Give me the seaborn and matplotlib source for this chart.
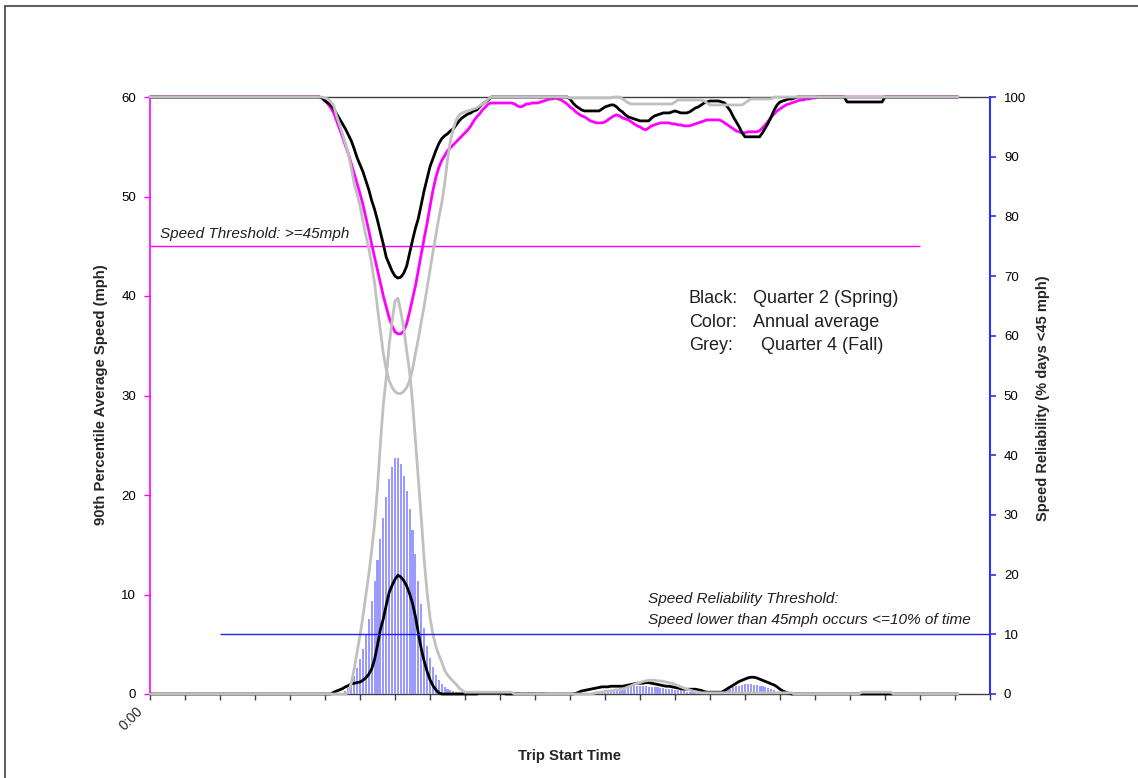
import numpy as np
import pandas as pd
import matplotlib
matplotlib.use("Agg")
import matplotlib.pyplot as plt
import seaborn as sns
from matplotlib.patches import Rectangle

# ---------------- DATA (5-minute intervals from 0:00) ----------------
N_POINTS = 278

# 90th percentile average speed (mph), left axis
speed_q2_spring = (
    [60] * 58
    + [60, 59.9, 59.6, 59.4, 59.2, 58.8, 58.3, 57.8, 57.3, 56.8,
       56.2, 55.6, 54.8, 53.9, 53.2, 52.5, 51.6, 50.7, 49.6, 48.7,
       47.6, 46.4, 45.2, 43.9, 43.2, 42.5, 42.0, 41.8, 41.9, 42.3,
       43.0, 44.3, 45.6, 46.8, 47.8, 49.2, 50.6, 51.8, 53.0, 53.8,
       54.6, 55.3, 55.8, 56.1, 56.3, 56.6, 56.8, 57.2, 57.6, 57.9,
       58.1, 58.3, 58.4, 58.6, 58.7, 59.0, 59.3, 59.5, 59.7, 60]
    + [60] * 25
    + [60, 59.8, 59.4, 59.1, 58.9, 58.7, 58.6, 58.6, 58.6, 58.6,
       58.6, 58.6, 58.8, 59.0, 59.1, 59.2, 59.2, 59.0, 58.7, 58.5,
       58.2, 58.0, 57.9, 57.8, 57.7, 57.6, 57.6, 57.6, 57.6, 57.9,
       58.1, 58.2, 58.3, 58.4, 58.4, 58.4, 58.5, 58.6, 58.5, 58.4,
       58.4, 58.4, 58.5, 58.7, 58.9, 59.0, 59.2, 59.4, 59.5, 59.6,
       59.6, 59.6, 59.6, 59.5, 59.4, 59.0, 58.6, 58.0, 57.5, 57.0,
       56.4, 56.0, 56.0, 56.0, 56.0, 56.0, 56.0, 56.4, 56.9, 57.4,
       58.0, 58.7, 59.2, 59.5, 59.6, 59.7, 59.8, 59.8, 59.9, 60]
    + [60] * 16
    + [59.5] * 13
    + [60] * 26
)

speed_annual = (
    [60] * 58
    + [60, 59.9, 59.7, 59.3, 58.9, 58.4, 57.6, 56.8, 56.0, 55.1,
       54.3, 53.3, 52.3, 51.3, 50.3, 49.2, 47.9, 46.6, 45.2, 43.9,
       42.6, 41.3, 40.0, 38.9, 37.8, 37.0, 36.4, 36.2, 36.2, 36.5,
       37.2, 38.4, 39.7, 41.0, 42.6, 44.2, 45.8, 47.3, 49.0, 50.6,
       51.9, 52.9, 53.6, 54.1, 54.6, 54.9, 55.2, 55.5, 55.8, 56.1,
       56.4, 56.7, 57.1, 57.6, 58.0, 58.3, 58.7, 59.0, 59.3, 59.4,
       59.4, 59.4, 59.4]
    + [59.4, 59.4, 59.4, 59.4, 59.3, 59.1, 59.0, 59.1, 59.3, 59.3,
       59.4, 59.4, 59.4, 59.5, 59.6, 59.7, 59.8, 59.8, 59.9, 59.8,
       59.7, 59.5, 59.3, 59.0, 58.8, 58.5, 58.3, 58.1, 58.0, 57.8,
       57.6, 57.5, 57.4, 57.4, 57.4, 57.5, 57.7, 57.9, 58.1, 58.2,
       58.1, 57.9, 57.8, 57.7, 57.5, 57.3, 57.1, 57.0, 56.8, 56.7,
       56.9, 57.1, 57.2, 57.3, 57.4, 57.4, 57.4, 57.4, 57.3, 57.3,
       57.2, 57.2, 57.1, 57.1, 57.1, 57.2, 57.3, 57.4, 57.5, 57.6,
       57.7, 57.7, 57.7, 57.7, 57.7, 57.6, 57.4, 57.2, 57.0, 56.8,
       56.6, 56.5, 56.4, 56.4, 56.5, 56.5, 56.5, 56.5, 56.6, 56.9,
       57.2, 57.6, 58.0, 58.3, 58.6, 58.8, 59.0, 59.2, 59.3, 59.4,
       59.5, 59.6, 59.7, 59.7, 59.8, 59.8, 59.9, 59.9, 60]
    + [60] * 48
)

speed_q4_fall = (
    [60] * 58
    + [60, 60, 59.9, 59.8, 59.5, 59.1, 58.1, 57.2, 56.3, 55.3,
       54.3, 52.9, 51.3, 50.2, 49.1, 47.5, 46.1, 44.8, 43.2, 41.3,
       38.8, 36.5, 34.2, 32.6, 31.5, 30.8, 30.4, 30.2, 30.2, 30.4,
       30.8, 31.5, 32.6, 34.2, 35.7, 37.4, 39.0, 40.8, 42.6, 44.4,
       46.1, 47.8, 49.3, 51.2, 53.7, 55.6, 56.8, 57.7, 58.2, 58.4,
       58.5, 58.6, 58.7, 58.8, 58.9, 59.1, 59.3, 59.5, 59.8, 60]
    + [60] * 26
    + [59.9] * 15 + [60, 60, 60] + [59.8, 59.6, 59.4] + [59.3] * 15
    + [59.5, 59.7] + [59.7] * 8 + [59.6, 59.4] + [59.2] * 12
    + [59.4, 59.6] + [59.8] * 8
    + [60] * 64
)

# Speed reliability (% days < 45 mph), right axis
rel_q2_spring = (
    [0] * 63
    + [0.3, 0.5, 0.7, 0.9, 1.2, 1.4, 1.7, 1.8, 1.9, 2.0,
       2.3, 2.7, 3.3, 4.2, 5.8, 8.2, 10.8, 12.6, 14.9, 17.0,
       18.2, 19.2, 19.9, 19.6, 19.0, 18.1, 16.8, 15.2, 13.0, 10.2,
       7.6, 5.5, 3.8, 2.4, 1.4, 0.7, 0.2]
    + [0] * 13
    + [0.2] * 9
    + [0] * 24
    + [0.1, 0.3, 0.5, 0.6, 0.7, 0.8, 0.9, 1.0, 1.1, 1.2,
       1.2, 1.2, 1.3, 1.3, 1.3, 1.3, 1.3, 1.4, 1.5, 1.6,
       1.7, 1.8, 1.8, 1.8, 1.9, 1.9, 1.8, 1.7, 1.6, 1.5,
       1.4, 1.3, 1.3, 1.2, 1.1, 1.0, 0.9, 0.8, 0.8, 0.8,
       0.8, 0.8, 0.7, 0.6, 0.4, 0.3, 0.3, 0.3, 0.3, 0.3,
       0.3, 0.6, 0.9, 1.2, 1.5, 1.8, 2.1, 2.3, 2.5, 2.7,
       2.8, 2.8, 2.7, 2.5, 2.3, 2.1, 1.9, 1.7, 1.5, 1.2,
       0.8, 0.5, 0.3, 0.1]
    + [0] * 58
)

rel_q4_fall = (
    [0] * 68
    + [0.3, 1.8, 4.2, 7.0, 9.8, 13.0, 16.5, 20.0, 24.0, 28.5,
       34.5, 42.0, 48.5, 53.0, 58.5, 62.5, 65.8, 66.3, 64.0, 61.3,
       57.5, 54.0, 49.0, 42.5, 36.0, 29.5, 22.5, 17.0, 12.8, 10.0,
       8.0, 6.6, 5.4, 4.0, 3.2, 2.6, 2.1, 1.6, 1.0, 0.6, 0.3]
    + [0.3] * 16
    + [0] * 27
    + [0.1, 0.2, 0.3, 0.3, 0.4, 0.5, 0.5, 0.6, 0.7, 0.7,
       0.8, 1.0, 1.2, 1.4, 1.6, 1.8, 1.9, 2.1, 2.2, 2.3,
       2.3, 2.3, 2.2, 2.2, 2.1, 2.0, 1.9, 1.8, 1.6, 1.4,
       1.2, 1.0, 0.8, 0.7, 0.5, 0.4, 0.3, 0.2]
    + [0.2] * 31
    + [0] * 23
    + [0.3] * 11
    + [0] * 23
)

rel_annual_bars = (
    [0] * 66
    + [0.2, 0.5, 1.0, 1.8, 3.0, 4.3, 5.8, 7.5, 9.8, 12.5,
       15.5, 19.0, 22.5, 26.0, 29.5, 33.0, 36.0, 38.0, 39.5, 39.6,
       38.5, 36.5, 34.0, 31.0, 27.5, 23.5, 19.0, 15.0, 11.0, 8.0,
       6.0, 4.5, 3.2, 2.3, 1.6, 1.2, 0.9, 0.7, 0.5, 0.4, 0.3]
    + [0.3] * 29
    + [0] * 16
    + [0.2, 0.3, 0.4, 0.5, 0.6, 0.6, 0.7, 0.8, 0.9, 1.0,
       1.0, 1.1, 1.2, 1.2, 1.3, 1.3, 1.3, 1.3, 1.3, 1.2,
       1.2, 1.1, 1.1, 1.0, 1.0, 0.9, 0.9, 0.8, 0.7, 0.6,
       0.6, 0.5, 0.4, 0.4, 0.3, 0.3, 0.2, 0.1, 0.1, 0.1,
       0.1, 0.1, 0.1, 0.1, 0.3, 0.5, 0.7, 0.9, 1.1, 1.3,
       1.4, 1.5, 1.6, 1.6, 1.6, 1.5, 1.5, 1.4, 1.3, 1.1,
       1.0, 0.8, 0.6, 0.4, 0.3, 0.2, 0.1]
    + [0] * 59
)

x_first_label = "0:00"
speed_threshold = 45
reliability_threshold = 10

for s in (speed_q2_spring, speed_annual, speed_q4_fall,
          rel_q2_spring, rel_q4_fall, rel_annual_bars):
    assert len(s) == N_POINTS, len(s)

# ---------------- PLOT ----------------
sns.set_style("white")
plt.rcParams['font.family'] = ['Liberation Sans', 'DejaVu Sans']

hours = np.arange(N_POINTS) / 12.0

speed_df = pd.DataFrame({
    "time": np.tile(hours, 3),
    "speed": speed_annual + speed_q2_spring + speed_q4_fall,
    "series": ["Annual"] * N_POINTS + ["Q2"] * N_POINTS + ["Q4"] * N_POINTS,
})
rel_df = pd.DataFrame({
    "time": np.tile(hours, 2),
    "rel": rel_q2_spring + rel_q4_fall,
    "series": ["Q2"] * N_POINTS + ["Q4"] * N_POINTS,
})
bars_df = pd.DataFrame({"time": hours, "rel": rel_annual_bars})
palette = {"Annual": "#ff00ff", "Q2": "#000000", "Q4": "#c0c0c0"}

W, H = 1138, 778
fig = plt.figure(figsize=(W / 100, H / 100), dpi=100)
fig.patch.set_facecolor("white")
ax1 = fig.add_axes([150 / W, 1 - 694 / H, 840 / W, 597 / H])
ax2 = ax1.twinx()

# bars (annual reliability) on right axis
sns.histplot(data=bars_df, x="time", weights="rel", binwidth=1 / 12.0,
             binrange=(-0.5 / 12.0, (N_POINTS - 0.5) / 12.0), ax=ax2,
             color="#9a9aff", alpha=1, linewidth=0, shrink=0.72,
             stat="count", zorder=1)

sns.lineplot(data=rel_df, x="time", y="rel", hue="series",
             hue_order=["Q2", "Q4"], palette=palette, linewidth=2.0,
             estimator=None, sort=False, legend=False, ax=ax2, zorder=3)

sns.lineplot(data=speed_df, x="time", y="speed", hue="series",
             hue_order=["Annual", "Q2", "Q4"], palette=palette, linewidth=2.0,
             estimator=None, sort=False, legend=False, ax=ax1, zorder=3)

for ln in ax1.lines + ax2.lines:
    ln.set_clip_on(False)

ax1.hlines(speed_threshold, 0, 22, colors="#ff00ff", linewidth=1.0, zorder=2)
ax2.hlines(reliability_threshold, 2, 24, colors="#2020ff", linewidth=1.0, zorder=4)

ax1.set_xlim(0, 24)
ax1.set_ylim(0, 60)
ax2.set_ylim(0, 100)
ax1.set_xticks(range(25))
ax1.set_xticklabels([""] * 25)
ax1.set_yticks(range(0, 61, 10))
ax2.set_yticks(range(0, 101, 10))
ax1.tick_params(axis="y", colors="#ff00ff", labelcolor="black", direction="out",
                length=4, width=1, labelsize=9.5, pad=6, left=True)
ax2.tick_params(axis="y", colors="#3030ff", labelcolor="black", direction="out",
                length=4, width=1.2, labelsize=9.5, pad=6, right=True)
ax1.tick_params(axis="x", colors="#404040", labelcolor="black", direction="out",
                length=4, width=1, pad=4, bottom=True)
ax1.set_xlabel("")
ax1.set_ylabel("")
ax2.set_xlabel("")
ax2.set_ylabel("")

for name, sp in ax1.spines.items():
    sp.set_visible(True)
ax1.spines["left"].set_color("#ff00ff")
ax1.spines["left"].set_linewidth(1.2)
ax1.spines["top"].set_color("#404040")
ax1.spines["top"].set_linewidth(1.0)
ax1.spines["bottom"].set_color("#404040")
ax1.spines["bottom"].set_linewidth(1.0)
ax1.spines["right"].set_visible(False)
for name in ("left", "top", "bottom"):
    ax2.spines[name].set_visible(False)
ax2.spines["right"].set_visible(True)
ax2.spines["right"].set_color("#3030ff")
ax2.spines["right"].set_linewidth(1.5)

# annotations
def fx(px):
    return px / W

def fy(py):
    return 1 - py / H

# first x tick label, rotated as in the reference
fig.text(fx(146), fy(704), x_first_label, fontsize=10, rotation=45,
         ha="right", va="top")

txt_col = "#202020"
fig.text(fx(160), fy(238), "Speed Threshold: >=45mph", fontsize=11,
         style="italic", color=txt_col, va="baseline", ha="left")
fig.text(fx(648), fy(603), "Speed Reliability Threshold:", fontsize=11.1,
         style="italic", color=txt_col, va="baseline", ha="left")
fig.text(fx(648), fy(624), "Speed lower than 45mph occurs <=10% of time",
         fontsize=11.1, style="italic", color=txt_col, va="baseline", ha="left")

fig.text(fx(689), fy(303), "Black:", fontsize=13, color=txt_col, va="baseline")
fig.text(fx(898), fy(303), "Quarter 2 (Spring)", fontsize=13, color=txt_col,
         va="baseline", ha="right")
fig.text(fx(689), fy(327), "Color:", fontsize=13, color=txt_col, va="baseline")
fig.text(fx(879), fy(327), "Annual average", fontsize=13, color=txt_col,
         va="baseline", ha="right")
fig.text(fx(689), fy(350), "Grey:", fontsize=13, color=txt_col, va="baseline")
fig.text(fx(883), fy(350), "Quarter 4 (Fall)", fontsize=13, color=txt_col,
         va="baseline", ha="right")

fig.text(fx(101), fy(395), "90th Percentile Average Speed (mph)", fontsize=10.7,
         fontweight="bold", rotation=90, ha="center", va="center")
fig.text(fx(1043), fy(398), "Speed Reliability (% days <45 mph)", fontsize=10.5,
         fontweight="bold", rotation=90, ha="center", va="center")
fig.text(fx(570), fy(756), "Trip Start Time", fontsize=10.7,
         fontweight="bold", ha="center", va="center")

fig.patches.append(Rectangle((5 / W, -0.1), 1.2, 1 - 6 / H + 0.1,
                             transform=fig.transFigure, fill=False,
                             edgecolor="#606060", linewidth=1.5))

fig.savefig("out.png", dpi=100)
